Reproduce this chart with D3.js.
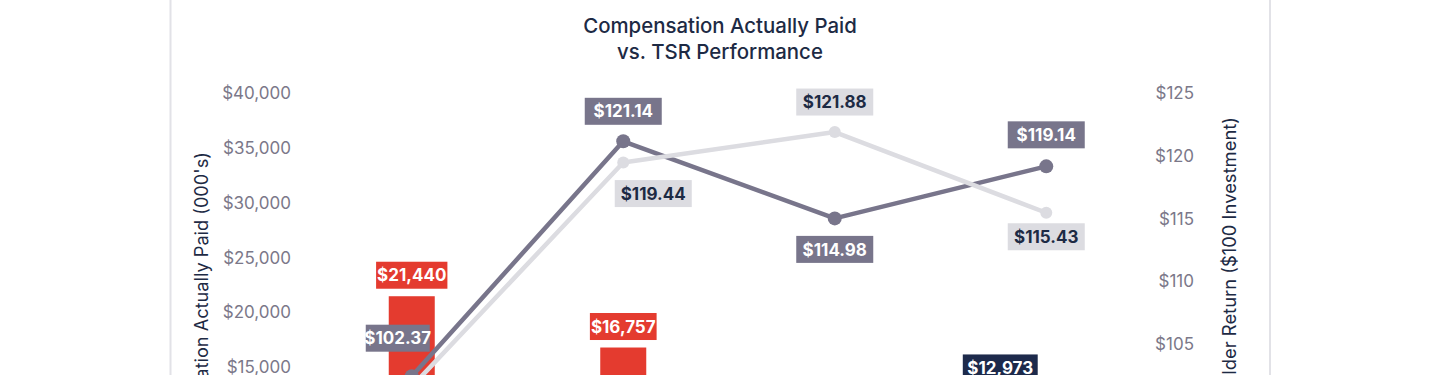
<!DOCTYPE html>
<html>
<head>
<meta charset="utf-8">
<script src="https://cdn.jsdelivr.net/npm/d3@7"></script>
<style>
  html, body { margin: 0; padding: 0; background: #ffffff; overflow: hidden; }
  svg { display: block; }
  text { font-family: Inter, "Open Sans", sans-serif; }
</style>
</head>
<body>
<div id="chart"></div>
<script>
// ---------------- data ----------------
const years = ["2020", "2021", "2022", "2023"];
// Compensation actually paid (000's) – two PEO series (null = not shown)
const capPeoA = [21440, 16757, null, null];      // red bars
const capPeoB = [null, null, null, 12973];       // navy bars
// Categories in which both PEOs share the slot (bars side by side)
const sharedYears = ["2023"];
// TSR ($100 investment)
const tsrCompany = [102.37, 121.14, 114.98, 119.14];
const tsrPeer    = [101.54, 119.44, 121.88, 115.43];
// axis ticks
const leftTicks  = [0, 5000, 10000, 15000, 20000, 25000, 30000, 35000, 40000];
const rightTicks = [90, 95, 100, 105, 110, 115, 120, 125];
const titleLines = ["Compensation Actually Paid", "vs. TSR Performance"];
const leftTitle  = "CEO Compensation Actually Paid (000's)";
const rightTitle = "Total Shareholder Return ($100 Investment)";

// ---------------- style / layout ----------------
const W = 1440, H = 720;
const C = {
  red: "#e43b2f", navy: "#1d2a4b", dark: "#78758b", light: "#dcdce1",
  text: "#1d2a44", tick: "#7b7889", border: "#e2e2e7"
};
// label placement (box centre offset from point) per series
const darkPlace  = [{dx: -14, dy: -38, w: 64}, {dx: 0, dy: -30}, {dx: 0, dy: 31}, {dx: 0, dy: -31.5}];
const lightPlace = [{dx: 0, dy: 31}, {dx: 30, dy: 31}, {dx: 0, dy: -30}, {dx: 0, dy: 24}];

const svg = d3.select("#chart").append("svg").attr("width", W).attr("height", H);

// card
svg.append("rect").attr("x", 170.5).attr("y", -20).attr("width", 1099.5).attr("height", 730)
  .attr("fill", "#fff").attr("stroke", C.border).attr("stroke-width", 2);

// scales
const x = d3.scaleBand().domain(years).range([306, 1152]);
const xc = d => x(d) + x.bandwidth() / 2;
const yL = d3.scaleLinear().domain([0, 40000]).range([531, 93]);
const yR = d3.scaleLinear().domain([90, 125]).range([531, 93]);
const barW = 46;
const sub = d3.scalePoint().domain(["B", "A"]).range([-46, 46]);

// title
svg.append("g").selectAll("text").data(titleLines).join("text")
  .attr("x", 720).attr("y", (d, i) => 33 + i * 26)
  .attr("text-anchor", "middle").attr("fill", C.text)
  .attr("font-size", 20.4).attr("font-weight", 500).text(d => d);

// axes
const fmtL = d => "$" + d3.format(",")(d);
const fmtR = d => "$" + d;
const axL = svg.append("g").attr("transform", "translate(294,0)")
  .call(d3.axisLeft(yL).tickValues(leftTicks).tickFormat(fmtL).tickSize(0).tickPadding(3));
const axR = svg.append("g").attr("transform", "translate(1197,0)")
  .call(d3.axisLeft(yR).tickValues(rightTicks).tickFormat(fmtR).tickSize(0).tickPadding(3));
[axL, axR].forEach(a => {
  a.select(".domain").remove();
  a.selectAll("text").attr("fill", C.tick).attr("font-size", 17)
    .style("font-family", "Inter, sans-serif").attr("dy", "0.35em");
});

// axis titles
svg.append("text").attr("transform", "translate(208,152) rotate(-90)")
  .attr("text-anchor", "end").attr("fill", C.text).attr("font-size", 18.2).text(leftTitle);
svg.append("text").attr("transform", "translate(1236,117) rotate(-90)")
  .attr("text-anchor", "end").attr("fill", C.text).attr("font-size", 18.4).text(rightTitle);

// bars
function barX(series, yr) {
  const off = sharedYears.includes(yr) ? sub(series) : 0;
  return xc(yr) + off;
}
const bars = [];
years.forEach((yr, i) => {
  if (capPeoA[i] != null) bars.push({yr, v: capPeoA[i], s: "A", fill: C.red, tc: "#fff", pad: 1});
  if (capPeoB[i] != null) bars.push({yr, v: capPeoB[i], s: "B", fill: C.navy, tc: "#fff", pad: 4.5});
});
svg.append("g").selectAll("rect").data(bars).join("rect")
  .attr("x", d => barX(d.s, d.yr) - barW / 2).attr("width", barW)
  .attr("y", d => yL(d.v)).attr("height", d => yL(0) - yL(d.v)).attr("fill", d => d.fill);

// lines
const line = d3.line().x((d, i) => xc(years[i])).y(d => yR(d));
const gL = svg.append("g");
gL.append("path").datum(tsrCompany).attr("d", line).attr("fill", "none")
  .attr("stroke", C.dark).attr("stroke-width", 4.5).attr("stroke-linejoin", "round");
gL.selectAll("circle.d").data(tsrCompany).join("circle").attr("class", "d")
  .attr("cx", (d, i) => xc(years[i])).attr("cy", d => yR(d)).attr("r", 7).attr("fill", C.dark);
gL.append("path").datum(tsrPeer).attr("d", line).attr("fill", "none")
  .attr("stroke", C.light).attr("stroke-width", 4.5).attr("stroke-linejoin", "round");
gL.selectAll("circle.l").data(tsrPeer).join("circle").attr("class", "l")
  .attr("cx", (d, i) => xc(years[i])).attr("cy", d => yR(d)).attr("r", 6).attr("fill", C.light);

// labels
const labels = [];
tsrCompany.forEach((v, i) => labels.push({
  cx: xc(years[i]) + darkPlace[i].dx, cy: yR(v) + darkPlace[i].dy, w: darkPlace[i].w || 77,
  t: "$" + v.toFixed(2), fill: C.dark, tc: "#fff"}));
tsrPeer.forEach((v, i) => labels.push({
  cx: xc(years[i]) + lightPlace[i].dx, cy: yR(v) + lightPlace[i].dy, w: lightPlace[i].w || 77,
  t: "$" + v.toFixed(2), fill: C.light, tc: C.text}));
bars.forEach(b => labels.push({
  cx: barX(b.s, b.yr), cy: yL(b.v) - 21, w: null, pad: b.pad,
  t: fmtL(b.v), fill: b.fill, tc: b.tc}));

const lg = svg.append("g").selectAll("g").data(labels).join("g");
lg.append("rect");
lg.append("text").attr("text-anchor", "middle").attr("dy", "0.36em")
  .attr("font-size", 17).attr("font-weight", 700)
  .attr("x", d => d.cx).attr("y", d => d.cy).attr("fill", d => d.tc).text(d => d.t);
lg.each(function(d) {
  const g = d3.select(this);
  const tw = g.select("text").node().getComputedTextLength();
  const w = d.w || (tw + 2 * d.pad);
  g.select("rect").attr("x", d.cx - w / 2).attr("y", d.cy - 13.5).attr("width", w).attr("height", 27)
    .attr("fill", d.fill);
});
</script>
</body>
</html>
